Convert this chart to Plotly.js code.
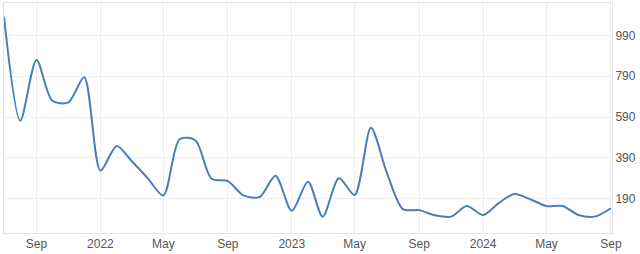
<!DOCTYPE html>
<html>
<head>
<meta charset="utf-8">
<script src="https://cdn.plot.ly/plotly-3.0.1.min.js"></script>
<style>html,body{margin:0;padding:0;background:#fff;}#chart{width:640px;height:254px;}</style>
</head>
<body>
<div id="chart"></div>
<script>
const dates = [
  '2021-07-01','2021-08-01','2021-09-01','2021-10-01','2021-11-01','2021-12-01',
  '2022-01-01','2022-02-01','2022-03-01','2022-04-01','2022-05-01','2022-06-01',
  '2022-07-01','2022-08-01','2022-09-01','2022-10-01','2022-11-01','2022-12-01',
  '2023-01-01','2023-02-01','2023-03-01','2023-04-01','2023-05-01','2023-06-01',
  '2023-07-01','2023-08-01','2023-09-01','2023-10-01','2023-11-01','2023-12-01',
  '2024-01-01','2024-02-01','2024-03-01','2024-04-01','2024-05-01','2024-06-01',
  '2024-07-01','2024-08-01','2024-09-01'
];
const values = [
  1082, 572, 870, 670, 662, 785,
  327, 448, 375, 290, 205, 481,
  476, 287, 275, 205, 198, 302,
  130, 272, 101, 289, 207, 537,
  320, 138, 133, 108, 101, 153,
  109, 170, 212, 185, 153, 153,
  109, 101, 142
];
const xTickVals = ['2021-09-01','2022-01-01','2022-05-01','2022-09-01','2023-01-01','2023-05-01','2023-09-01','2024-01-01','2024-05-01','2024-09-01'];
const xTickText = ['Sep','2022','May','Sep','2023','May','Sep','2024','May','Sep'];
const yTickVals = [190, 390, 590, 790, 990];

Plotly.newPlot('chart', [{
  x: dates, y: values, type: 'scatter', mode: 'lines',
  line: {color: '#4a7dbd', width: 2, shape: 'spline', smoothing: 0.8},
  hoverinfo: 'skip'
}], {
  width: 640, height: 254,
  margin: {l: 4, r: 28, t: 3, b: 21},
  paper_bgcolor: '#ffffff', plot_bgcolor: '#ffffff',
  showlegend: false,
  font: {family: 'Liberation Sans, Arial, sans-serif', size: 12, color: '#555555'},
  xaxis: {
    type: 'date', range: ['2021-07-01', '2024-09-03'],
    tickvals: xTickVals, ticktext: xTickText,
    showgrid: true, gridcolor: '#eeeeee', gridwidth: 1,
    showline: true, linecolor: '#e4e4e4', linewidth: 1, mirror: true,
    zeroline: false, ticks: '', tickfont: {size: 12, color: '#555555'}
  },
  yaxis: {
    side: 'right', range: [20.7, 1149.5],
    tickvals: yTickVals,
    showgrid: true, gridcolor: '#eeeeee', gridwidth: 1,
    showline: true, linecolor: '#e4e4e4', linewidth: 1, mirror: true,
    zeroline: false, ticks: '', tickfont: {size: 12, color: '#555555'}
  }
}, {displayModeBar: false, staticPlot: true});
</script>
</body>
</html>
